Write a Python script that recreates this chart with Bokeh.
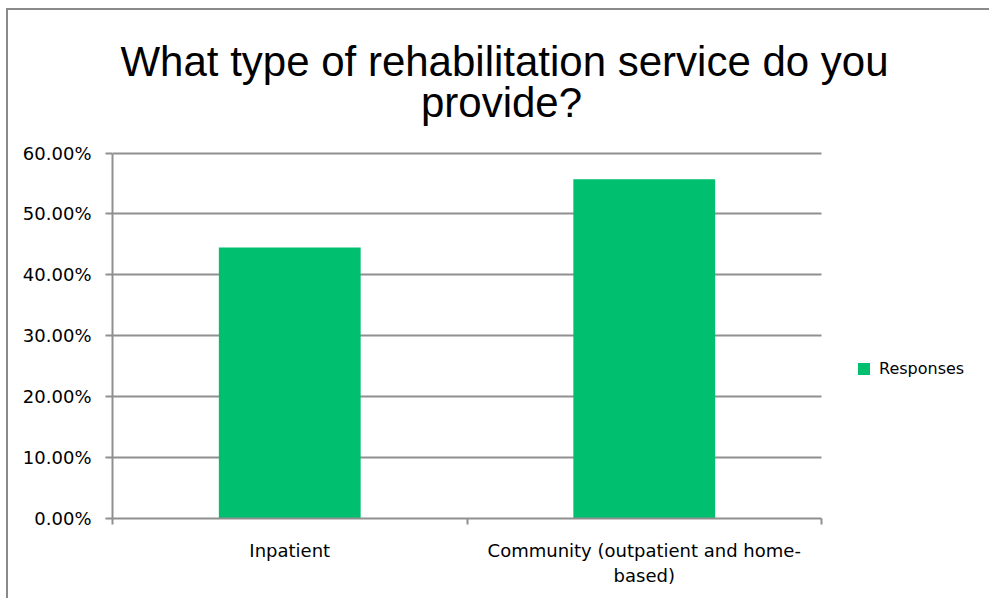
import numpy as np
from bokeh.plotting import figure
from bokeh.models import (Range1d, LinearAxis, FixedTicker, NumeralTickFormatter,
                          Legend, LegendItem, ColumnDataSource, Label)
from bokeh.embed import file_html
from bokeh.resources import INLINE

# ---- data ----
categories = ["Inpatient", "Community (outpatient and home-\nbased)"]
responses = [0.445, 0.557]
y_ticks = [0.0, 0.1, 0.2, 0.3, 0.4, 0.5, 0.6]
series_name = "Responses"
title_lines = ["What type of rehabilitation service do you", "provide?"]

GREEN = "#00BF6F"
GRID = "#8f8f8f"
AX_FONT = "DejaVu Sans"
BORDER = "#8a8a8a"

n = len(categories)
centers = list(np.arange(n) + 0.5)          # category slots 0..n, bars centred in each
y_max = max(y_ticks)

# layout (pixels): plot area 112..821 horizontally, 152.5..518 vertically
W, H = 989, 598
LEFT, BOTTOM = 112, 80
PLOT_R, PLOT_T = 821, 152.5
px_per_x = (PLOT_R - LEFT) / n
px_per_y = (H - BOTTOM - PLOT_T) / y_max
x_end = n + (W - PLOT_R) / px_per_x
y_end = y_max + PLOT_T / px_per_y

source = ColumnDataSource(dict(x=centers, val=responses))

p = figure(width=W, height=H, x_range=Range1d(0, x_end), y_range=Range1d(0, y_end),
           x_axis_location=None, output_backend="svg", toolbar_location=None,
           min_border_left=LEFT, min_border_right=0, min_border_top=0,
           min_border_bottom=BOTTOM)
p.outline_line_color = None
p.background_fill_color = None
p.border_fill_color = None
p.styles = {"background": (f"linear-gradient({BORDER},{BORDER}) 6px 8px / 2px 100% no-repeat, "
                           f"linear-gradient({BORDER},{BORDER}) 6px 8px / 100% 2px no-repeat, white")}

r = p.vbar(x="x", top="val", width=0.4, source=source, color=GREEN, line_color=None)

# title (two centred lines)
def to_x(px):
    return (px - LEFT) / px_per_x

def to_y(py):
    return (H - BOTTOM - py) / px_per_y

for txt, cx, base in [(title_lines[0], 504, 61), (title_lines[1], 501, 102)]:
    p.add_layout(Label(x=to_x(cx), y=to_y(base), text=txt, text_font="Liberation Sans",
                       text_font_size="42px", text_color="black", text_align="center",
                       text_baseline="alphabetic"))

# y axis
ya = p.yaxis[0]
ya.bounds = (0, y_max)
ya.ticker = FixedTicker(ticks=y_ticks)
ya.formatter = NumeralTickFormatter(format="0.00%")
ya.major_label_text_font = AX_FONT
ya.major_label_text_font_size = "18px"
ya.major_label_text_color = "black"
ya.axis_line_color = GRID
ya.axis_line_width = 2
ya.major_tick_line_color = GRID
ya.major_tick_line_width = 2
ya.major_tick_out = 7
ya.major_tick_in = 0
ya.minor_tick_line_color = None
ya.major_label_standoff = 14

p.xgrid.grid_line_color = None
p.ygrid.ticker = FixedTicker(ticks=y_ticks)
p.ygrid.grid_line_color = GRID
p.ygrid.grid_line_width = 2
p.ygrid.cross_bounds = (0, n)

# x axis: divider ticks between categories (no labels of its own)
tick_axis = LinearAxis(ticker=FixedTicker(ticks=list(range(n + 1))), bounds=(0, n),
                       major_label_text_font_size="1px", major_label_text_color=None,
                       major_label_text_alpha=0, major_label_standoff=0,
                       axis_line_color=GRID, axis_line_width=2,
                       major_tick_line_color=GRID, major_tick_line_width=2,
                       major_tick_out=6, major_tick_in=0,
                       minor_tick_line_color=None)
p.add_layout(tick_axis, "below")

label_axis = LinearAxis(ticker=FixedTicker(ticks=centers), bounds=(0, n),
                        major_label_overrides={c: lab for c, lab in zip(centers, categories)},
                        axis_line_color=None, major_tick_line_color=None,
                        major_tick_out=0, major_tick_in=0, minor_tick_line_color=None,
                        major_label_text_font=AX_FONT,
                        major_label_text_font_size="18px",
                        major_label_text_color="black",
                        major_label_standoff=15)
p.add_layout(label_axis, "below")

legend = Legend(items=[LegendItem(label=series_name, renderers=[r])],
                location=(858 - LEFT - 2, H - BOTTOM - 378), orientation="vertical",
                border_line_color=None, background_fill_alpha=0,
                glyph_width=15, glyph_height=15, label_standoff=8,
                label_text_font=AX_FONT, label_text_font_size="16px",
                label_text_color="black", padding=2, margin=0, spacing=0,
                label_height=15)
p.add_layout(legend, "center")

open("out.html", "w").write(file_html(p, INLINE))
